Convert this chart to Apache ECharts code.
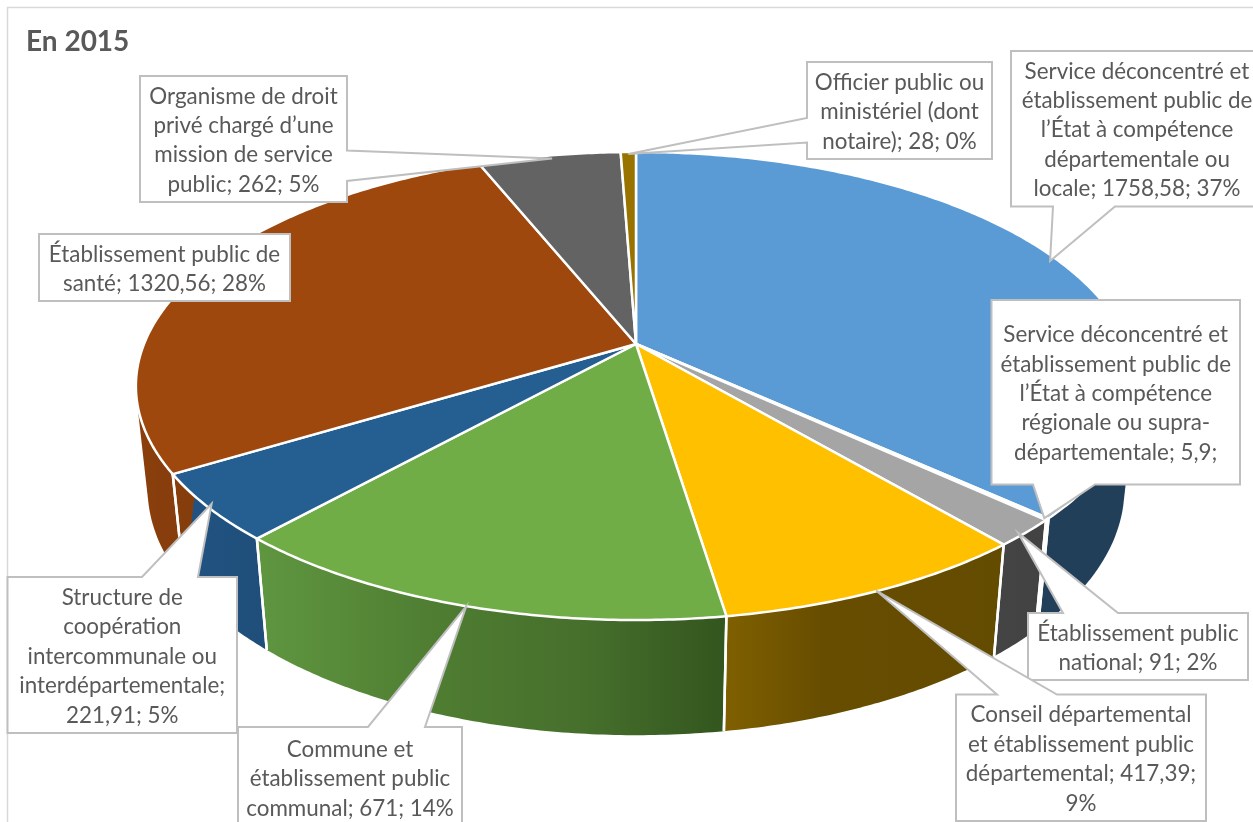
<!DOCTYPE html>
<html><head><meta charset="utf-8">
<style>html,body{margin:0;padding:0;background:#fff}#c{width:1253px;height:822px}</style>
<script src="https://cdn.jsdelivr.net/npm/echarts@6/dist/echarts.min.js"></script>
</head><body><div id="c"></div>
<script>
// ---- data ----
const categories = [
  "Service déconcentré et établissement public de l’État à compétence départementale ou locale",
  "Service déconcentré et établissement public de l’État à compétence régionale ou supra-départementale",
  "Établissement public national",
  "Conseil départemental et établissement public départemental",
  "Commune et établissement public communal",
  "Structure de coopération intercommunale ou interdépartementale",
  "Établissement public de santé",
  "Organisme de droit privé chargé d’une mission de service public",
  "Officier public ou ministériel (dont notaire)"
];
const values = [1758.58, 5.9, 91, 417.39, 671, 221.91, 1320.56, 262, 28];
const labelTexts = [
  "Service déconcentré et\nétablissement public de\nl’État à compétence\ndépartementale ou\nlocale; 1758,58; 37%",
  "Service déconcentré et\nétablissement public de\nl’État à compétence\nrégionale ou supra-\ndépartementale; 5,9;",
  "Établissement public\nnational; 91; 2%",
  "Conseil départemental\net établissement public\ndépartemental; 417,39;\n9%",
  "Commune et\nétablissement public\ncommunal; 671; 14%",
  "Structure de\ncoopération\nintercommunale ou\ninterdépartementale;\n221,91; 5%",
  "Établissement public de\nsanté; 1320,56; 28%",
  "Organisme de droit\nprivé chargé d’une\nmission de service\npublic; 262; 5%",
  "Officier public ou\nministériel (dont\nnotaire); 28; 0%"
];
const titleText = "En 2015";

// ---- styles ----
const topColors = ["#5b9bd5","#ed7d31","#a5a5a5","#ffc000","#70ad47","#255e91","#9e480e","#636363","#997300"];
const wallStops = [
  [[0,"#223f59"],[1,"#223f59"]],
  [[0,"#8f4b1d"],[1,"#8f4b1d"]],
  [[0,"#444444"],[1,"#424242"]],
  [[0,"#806000"],[0.35,"#674d00"],[1,"#634b00"]],
  [[0,"#5f9640"],[0.4,"#4e7c31"],[0.7,"#466f2c"],[1,"#33551e"]],
  [[0,"#225383"],[1,"#1f4e79"]],
  [[0,"#8a3f0c"],[1,"#843c0c"]],
  [[0,"#444444"],[1,"#444444"]],
  [[0,"#6b5000"],[1,"#6b5000"]]
];
// callout boxes: [left, top, right, bottom], wedge base [p, q] on side, tip nudge
const callouts = [
  {box:[1011,51,1263,206.5], side:"bottom", base:[1053,1115], nudge:[-6,2]},
  {box:[991.5,300,1240,484.5], side:"bottom", base:[1033,1095], nudge:[-3,-1]},
  {box:[1028,613,1248,680], side:"top", base:[1063,1118], nudge:[-8,0]},
  {box:[956,694.5,1206,821], side:"top", base:[997,1057], nudge:[-3,0]},
  {box:[238,727,462,828], side:"top", base:[368,425], nudge:[0,0]},
  {box:[7.5,577,237,733], side:"top", base:[142,198], nudge:[3,-4]},
  {box:[39,234,290,301], side:"none", base:[0,0], nudge:[0,0]},
  {box:[140,76,347,202], side:"right", base:[150.5,181], nudge:[3,3]},
  {box:[807,62,992,159], side:"left", base:[118,142.5], nudge:[0,2]}
];
const FONT = "Lato, 'Open Sans', sans-serif";
const TEXT_COLOR = "#595959", BOX_COLOR = "#bfbfbf";

// ---- projection of the tilted disc ----
const APEX = [636,344], RX = 492, RY = 226.5, KP = 0.1795;
const VAN = [636,4800], HOR = -918, MU = 1.1053;
function topPt(a){
  const w = 1 + KP*Math.cos(a);
  return [APEX[0] + RX*Math.sin(a)/w, APEX[1] - RY*Math.cos(a)/w];
}
function lowPt(p){
  const r = MU*(p[1]-HOR)/(p[1]-VAN[1]);
  const y = (HOR - r*VAN[1])/(1-r);
  return [VAN[0] + (p[0]-VAN[0])*(y-VAN[1])/(p[1]-VAN[1]), y];
}
function arc(a0,a1){
  const n = Math.max(2, Math.ceil((a1-a0)/0.01)), pts=[];
  for(let i=0;i<=n;i++) pts.push(topPt(a0+(a1-a0)*i/n));
  return pts;
}
function hull(points){
  const p = points.slice().sort((m,n)=>m[0]-n[0]||m[1]-n[1]);
  const cross=(o,m,n)=>(m[0]-o[0])*(n[1]-o[1])-(m[1]-o[1])*(n[0]-o[0]);
  const lo=[],up=[];
  p.forEach(q=>{while(lo.length>1&&cross(lo[lo.length-2],lo[lo.length-1],q)<=0)lo.pop();lo.push(q);});
  p.slice().reverse().forEach(q=>{while(up.length>1&&cross(up[up.length-2],up[up.length-1],q)<=0)up.pop();up.push(q);});
  lo.pop();up.pop();
  return lo.concat(up);
}
const total = values.reduce((s,v)=>s+v,0);
const spans = []; 
values.reduce((acc,v)=>{const e=acc+v/total*2*Math.PI; spans.push([acc,e]); return e;},0);
const FRONT0 = 70*Math.PI/180, FRONT1 = 290*Math.PI/180;

function renderWall(params, api){
  const i = params.dataIndex, s = spans[i];
  const a0 = Math.max(s[0],FRONT0), a1 = Math.min(s[1],FRONT1);
  if(a1<=a0) return {type:'group',children:[]};
  const t = arc(a0,a1), b = t.map(lowPt);
  const children = [{type:'polygon',shape:{points:hull(t.concat(b))},
    style:{fill:new echarts.graphic.LinearGradient(0,0,1,0,wallStops[i].map(q=>({offset:q[0],color:q[1]})))}}];
  [a0,a1].forEach((a,j)=>{
    const onEdge = j===0 ? a0===s[0] : a1===s[1];
    if(onEdge){ const p=topPt(a);
      children.push({type:'line',z2:2,shape:{x1:p[0],y1:p[1],x2:lowPt(p)[0],y2:lowPt(p)[1]},style:{stroke:'#fff',lineWidth:2.5}});
    }
  });
  return {type:'group',children};
}
function renderTop(params, api){
  const i = params.dataIndex, s = spans[i];
  return {type:'polygon',shape:{points:[APEX].concat(arc(s[0],s[1]))},
    style:{fill:topColors[i],stroke:'#fff',lineWidth:2.5,lineJoin:'round'}};
}
function renderCallout(params, api){
  const i = params.dataIndex, c = callouts[i], s = spans[i];
  const tip = topPt((s[0]+s[1])/2); tip[0]+=c.nudge[0]; tip[1]+=c.nudge[1];
  const [l,t,r,b] = c.box, [p,q] = c.base;
  let pts;
  if(c.side==='top') pts=[[l,t],[p,t],tip,[q,t],[r,t],[r,b],[l,b]];
  else if(c.side==='bottom') pts=[[l,t],[r,t],[r,b],[q,b],tip,[p,b],[l,b]];
  else if(c.side==='left') pts=[[l,t],[r,t],[r,b],[l,b],[l,q],tip,[l,p]];
  else if(c.side==='right') pts=[[l,t],[r,t],[r,p],tip,[r,q],[r,b],[l,b]];
  else pts=[[l,t],[r,t],[r,b],[l,b]];
  return {type:'group',children:[
    {type:'polygon',shape:{points:pts},style:{fill:'#fff',stroke:BOX_COLOR,lineWidth:2,lineJoin:'miter'}},
    {type:'text',style:{x:(l+r)/2,y:(t+b)/2+1.5,text:labelTexts[i],align:'center',verticalAlign:'middle',
      font:"22.4px "+FONT,lineHeight:29.4,fill:TEXT_COLOR}}
  ]};
}
const seriesData = categories.map((name,i)=>({name,value:values[i]}));
const chart = echarts.init(document.getElementById('c'),null,{renderer:'canvas'});
chart.setOption({
  animation:false,
  backgroundColor:'#fff',
  title:{text:titleText,left:26,top:28,padding:0,textStyle:{fontFamily:FONT,fontSize:28,fontWeight:'bold',color:TEXT_COLOR}},
  graphic:[{type:'rect',z:-1,shape:{x:7.5,y:7.5,width:1300,height:900},style:{fill:'#fff',stroke:'#d9d9d9',lineWidth:1.5}}],
  series:[
    {type:'custom',name:'walls',coordinateSystem:'none',z:1,silent:true,renderItem:renderWall,data:seriesData},
    {type:'custom',name:'tops',coordinateSystem:'none',z:2,silent:true,renderItem:renderTop,data:seriesData},
    {type:'custom',name:'labels',coordinateSystem:'none',z:3,silent:true,renderItem:renderCallout,data:seriesData}
  ]
});
</script></body></html>
